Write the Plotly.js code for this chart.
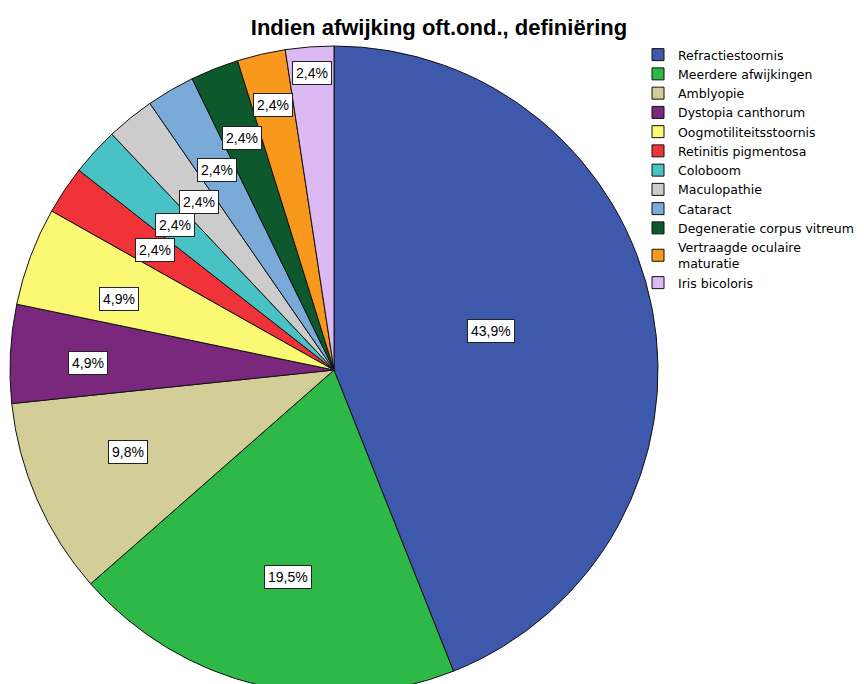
<!DOCTYPE html>
<html>
<head>
<meta charset="utf-8">
<script src="https://cdn.plot.ly/plotly-3.0.1.min.js"></script>
<style>
  html, body { margin: 0; padding: 0; background: #ffffff; }
  #frame { width: 864px; height: 684px; overflow: hidden; position: relative; }
  #chart { width: 864px; height: 700px; }
</style>
</head>
<body>
<div id="frame"><div id="chart"></div></div>
<script>
// Categories (slice order, clockwise from 12 o'clock)
const categories = [
  'Refractiestoornis',
  'Meerdere afwijkingen',
  'Amblyopie',
  'Dystopia canthorum',
  'Oogmotiliteitsstoornis',
  'Retinitis pigmentosa',
  'Coloboom',
  'Maculopathie',
  'Cataract',
  'Degeneratie corpus vitreum',
  'Vertraagde oculaire<br>maturatie',
  'Iris bicoloris'
];

// Share of each category, in percent
const percentages = [43.9, 19.5, 9.8, 4.9, 4.9, 2.4, 2.4, 2.4, 2.4, 2.4, 2.4, 2.4];

const sliceColors = [
  '#3E58AC', '#2EB848', '#D3CE97', '#7A287E', '#FBF873', '#EF3338',
  '#48C2C5', '#CCCCCC', '#7AAAD7', '#0D582C', '#F8981D', '#DDB9F3'
];

const chartTitle = 'Indien afwijking oft.ond., definiëring';

// Distance of each percentage label from the centre, as a fraction of the radius
const labelRadius = [0.50, 0.655, 0.685, 0.76, 0.70, 0.665, 0.665, 0.665, 0.715, 0.77, 0.84, 0.92];
// Small angular nudge of each label away from the slice's mid-angle (degrees)
const labelNudge = [-3, -1, 2, -1.3, -2.2, 0, 0, 0, 0, 0, 0, 0];

// Page geometry (pixels)
const W = 864, H = 700;
const cx = 334, cy = 370, R = 324;

const fmt = v => v.toFixed(1).replace('.', ',') + '%';

// Percentage labels, placed along each slice's mid-angle
const total = percentages.reduce((a, b) => a + b, 0);
let cum = 0;
const annotations = percentages.map((v, i) => {
  const mid = (cum + v / 2) / total * 2 * Math.PI + labelNudge[i] * Math.PI / 180;
  cum += v;
  const r = R * labelRadius[i];
  const px = cx + r * Math.sin(mid);
  const py = cy - r * Math.cos(mid);
  return {
    x: px / W, y: 1 - py / H, xref: 'paper', yref: 'paper',
    xanchor: 'center', yanchor: 'middle',
    text: fmt(v), showarrow: false,
    font: { family: 'Liberation Sans, Arial, sans-serif', size: 14, color: '#000' },
    bgcolor: '#ffffff', bordercolor: '#222222', borderwidth: 1, borderpad: 3
  };
});

const trace = {
  type: 'pie',
  labels: categories,
  values: percentages,
  sort: false,
  direction: 'clockwise',
  rotation: 0,
  textinfo: 'none',
  hoverinfo: 'label+percent',
  marker: { colors: sliceColors, line: { color: '#111111', width: 1 } },
  domain: {
    x: [(cx - R) / W, (cx + R) / W],
    y: [1 - (cy + R) / H, 1 - (cy - R) / H]
  }
};

const layout = {
  width: W, height: H,
  margin: { l: 0, r: 0, t: 0, b: 0 },
  paper_bgcolor: '#ffffff',
  title: {
    text: chartTitle,
    x: 439 / W, xref: 'container', xanchor: 'center',
    y: 1 - 27 / H, yref: 'container', yanchor: 'middle',
    font: { family: 'Liberation Sans, Arial, sans-serif', size: 22, weight: 'bold', color: '#000' }
  },
  showlegend: true,
  legend: {
    x: 638 / W, xanchor: 'left',
    y: 1 - 40 / H, yanchor: 'top',
    bgcolor: 'rgba(0,0,0,0)',
    font: { family: 'DejaVu Sans, sans-serif', size: 12.5, color: '#000' },
    traceorder: 'normal'
  },
  annotations: annotations
};

Plotly.newPlot('chart', [trace], layout, { displayModeBar: false, staticPlot: true });
</script>
</body>
</html>
